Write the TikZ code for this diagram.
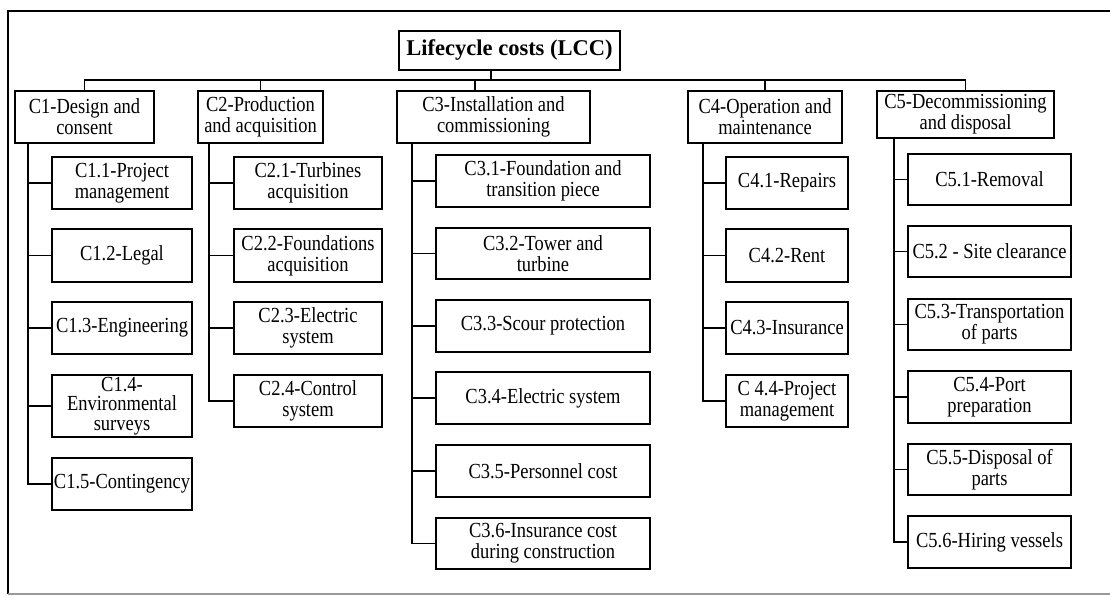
\documentclass[tikz,border=0pt]{standalone}
\usepackage{fontspec}
\setmainfont[FakeStretch=0.86]{Liberation Serif}
\newfontfamily\rootfont{Liberation Serif}
\usetikzlibrary{calc}
\tikzset{
  costbox/.style={draw, line width=1.7pt, inner sep=0pt, align=center,
    font=\fontsize{21.5}{21}\selectfont},
  rootbox/.style={costbox, font=\rootfont\fontsize{22.5}{24}\selectfont\bfseries},
  link/.style={line width=1.7pt},
  frame/.style={line width=1.6pt}
}
% #1 style, #2 name, #3 left, #4 top, #5 right, #6 bottom (pixel units, y downward), #7 text
\newcommand\costbox[7][costbox]{%
  \node[#1, minimum width={(#5-#3)*1pt}, minimum height={(#6-#4)*1pt}]
    (#2) at ({(#3+#5)/2},{(#4+#6)/2}) {#7};}
\begin{document}
\begin{tikzpicture}[x=1pt,y=-1pt]
\useasboundingbox (0,0) rectangle (1110,595);
% outer frame
\draw[frame] (1110,11) -- (8,11) -- (8,594);
\draw[line width=1.2pt, black!40] (8,594) -- (1110,594);

% root
\costbox[rootbox]{root}{399}{31}{620}{70}{Lifecycle costs (LCC)}

% main categories
\costbox{c1}{15}{91}{154}{143}{C1-Design and\\consent}
\costbox{c2}{198}{91}{323}{143}{C2-Production\\and acquisition}
\costbox{c3}{397}{91}{590}{143}{C3-Installation and\\commissioning}
\costbox{c4}{688}{91}{842}{143}{C4-Operation and\\maintenance}
\costbox{c5}{877}{91}{1054}{138}{C5-Decommissioning\\and disposal}

% C1 items
\costbox{c11}{52}{157}{192}{209}{C1.1-Project\\management}
\costbox{c12}{52}{229}{192}{282}{C1.2-Legal}
\costbox{c13}{52}{302}{192}{354}{C1.3-Engineering}
\costbox{c14}{52}{375}{192}{437}{C1.4-\\[-1.5pt]Environmental\\[-1.5pt]surveys}
\costbox{c15}{52}{458}{192}{510}{C1.5-Contingency}

% C2 items
\costbox{c21}{234}{157}{382}{209}{C2.1-Turbines\\acquisition}
\costbox{c22}{234}{229}{382}{282}{C2.2-Foundations\\acquisition}
\costbox{c23}{234}{302}{382}{354}{C2.3-Electric\\system}
\costbox{c24}{234}{375}{382}{427}{C2.4-Control\\system}

% C3 items
\costbox{c31}{436}{155}{650}{207}{C3.1-Foundation and\\transition piece}
\costbox{c32}{436}{228}{650}{279}{C3.2-Tower and\\turbine}
\costbox{c33}{436}{300}{650}{352}{C3.3-Scour protection}
\costbox{c34}{436}{372}{650}{424}{C3.4-Electric system}
\costbox{c35}{436}{445}{650}{497}{C3.5-Personnel cost}
\costbox{c36}{436}{518}{650}{569}{C3.6-Insurance cost\\during construction}

% C4 items
\costbox{c41}{726}{157}{848}{209}{C4.1-Repairs}
\costbox{c42}{726}{229}{848}{282}{C4.2-Rent}
\costbox{c43}{726}{302}{848}{354}{C4.3-Insurance}
\costbox{c44}{726}{375}{848}{427}{C 4.4-Project\\management}

% C5 items
\costbox{c51}{908}{154}{1071}{205}{C5.1-Removal}
\costbox{c52}{908}{226}{1071}{277}{C5.2 - Site clearance}
\costbox{c53}{908}{299}{1071}{350}{C5.3-Transportation\\of parts}
\costbox{c54}{908}{371}{1071}{423}{C5.4-Port\\preparation}
\costbox{c55}{908}{444}{1071}{495}{C5.5-Disposal of\\parts}
\costbox{c56}{908}{516}{1071}{568}{C5.6-Hiring vessels}

% bus from the root to the categories
\coordinate (bus) at (491,80);
\draw[link] (root.south -| bus) -- (bus);
\draw[link] (c1.north) |- (bus) -| (c5.north);
\draw[link] (c2.north) -- (c2.north |- bus);
\draw[link] ([xshift=-18.5pt]c3.north) -- ([xshift=-18.5pt]c3.north |- bus);
\draw[link] (c4.north) -- (c4.north |- bus);

% elbows from each category to its items
\foreach \i in {1,...,5}
  \draw[link] ([xshift=14pt]c1.south west) |- (c1\i.west);
\foreach \i in {1,...,4}
  \draw[link] ([xshift=12pt]c2.south west) |- (c2\i.west);
\foreach \i in {1,...,6}
  \draw[link] ([xshift=16pt]c3.south west) |- (c3\i.west);
\foreach \i in {1,...,4}
  \draw[link] ([xshift=16pt]c4.south west) |- (c4\i.west);
\foreach \i in {1,...,6}
  \draw[link] ([xshift=18pt]c5.south west) |- (c5\i.west);
\end{tikzpicture}
\end{document}
